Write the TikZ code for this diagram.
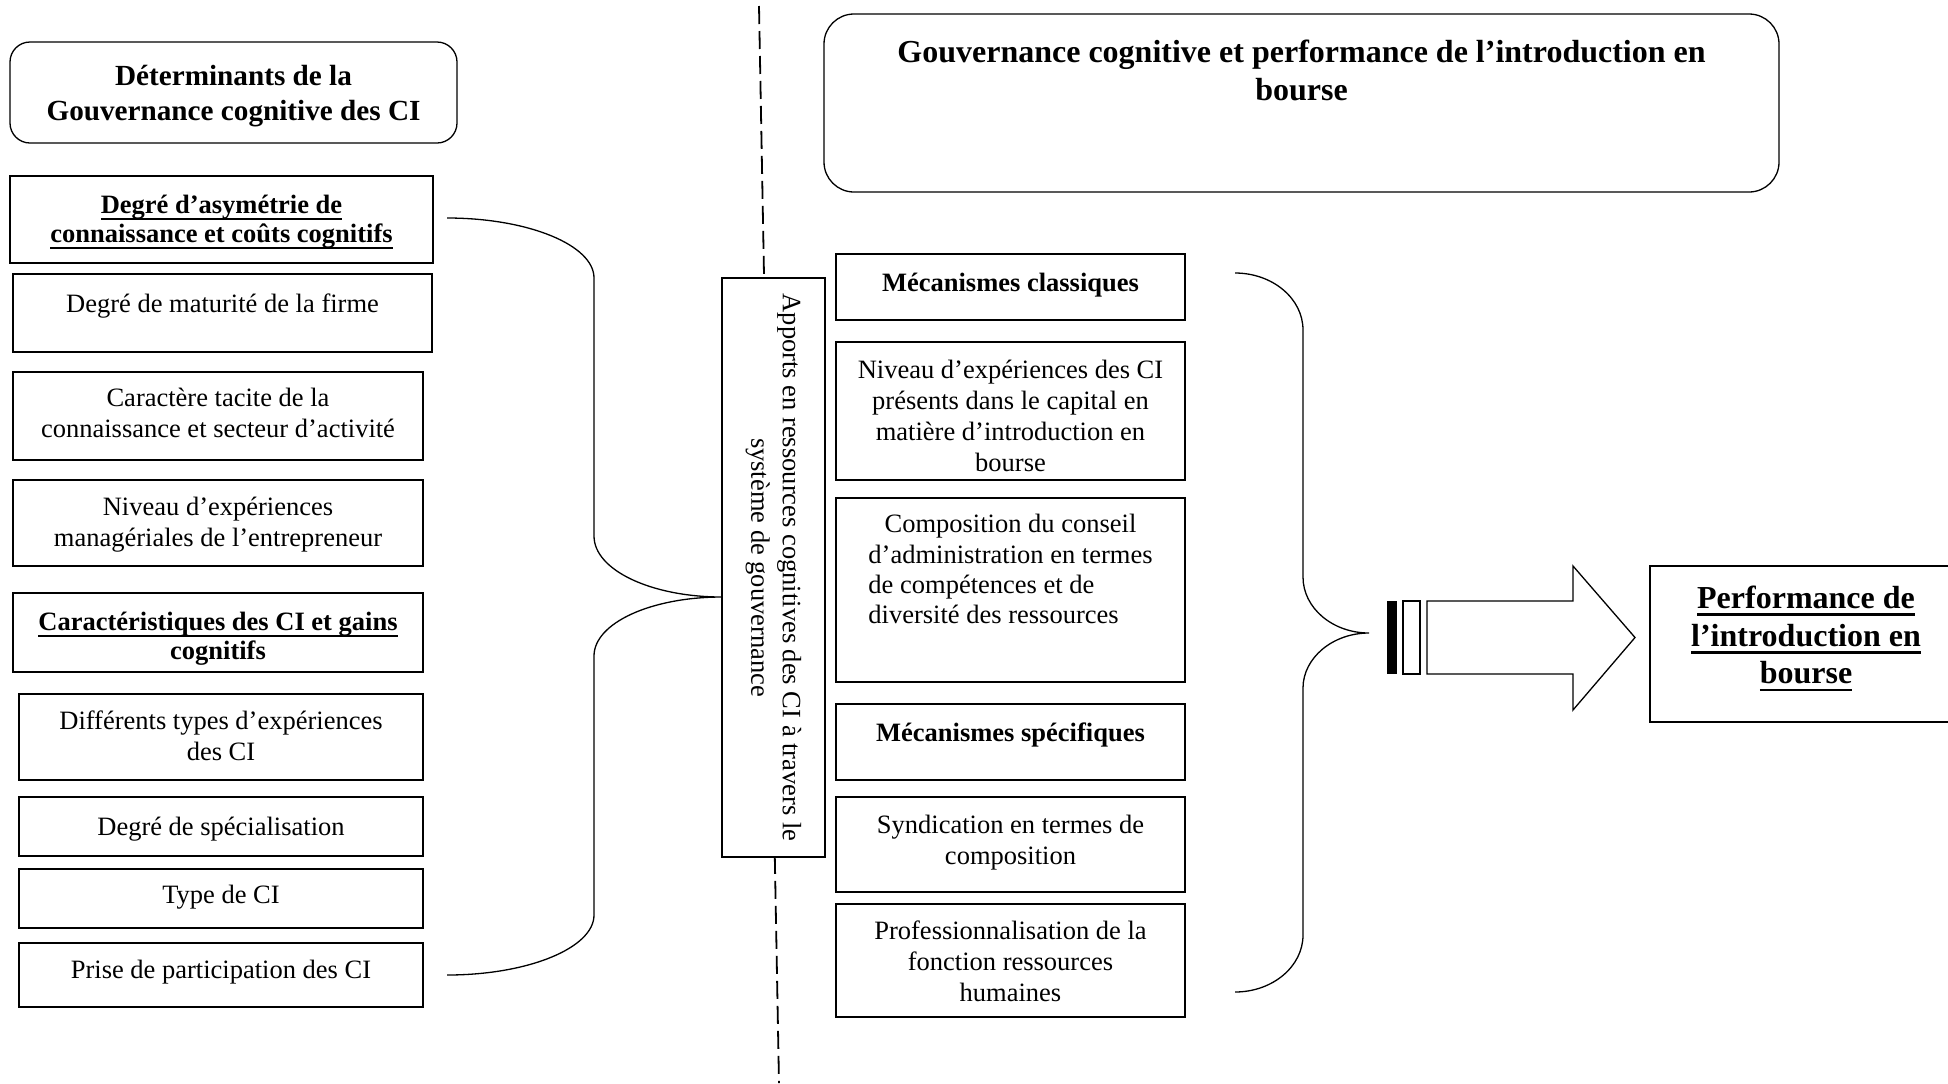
\documentclass[tikz,border=0pt]{standalone}
\usepackage{fontspec}
\setmainfont{Liberation Serif}
\usetikzlibrary{fit,calc}

% underlines for the bold headings
\newsavebox{\ulbox}
\newcommand{\ulx}[1]{\sbox{\ulbox}{#1}\rlap{\rule[-3.3pt]{\wd\ulbox}{1pt}}\usebox{\ulbox}}
\newcommand{\ulbig}[1]{\sbox{\ulbox}{#1}\rlap{\rule[-3.7pt]{\wd\ulbox}{1.3pt}}\usebox{\ulbox}}

\begin{document}
\begin{tikzpicture}[x=0.5pt,y=-0.5pt,
  bx/.style={draw, line width=0.65pt, inner sep=0pt, outer sep=0pt},
  rbx/.style={bx, rounded corners=#1},
  body/.style={inner sep=0pt, align=center, font=\fontsize{13.25}{15.5}\selectfont},
  head/.style={inner sep=0pt, align=center, font=\fontsize{13.25}{13.8}\selectfont\bfseries},
  brace/.style={line width=0.65pt},
  dsh/.style={line width=0.9pt, dash pattern=on 9pt off 3.5pt},
  arr/.style={line width=0.65pt}]
\useasboundingbox (0,0) rectangle (1948,1083);

% separating dashed line (the central box is drawn over it)
\coordinate (dTop) at (759,6);
\coordinate (dBot) at (779,1083);
\draw[dsh] (dTop) -- (dBot);

% ---------- titles ----------
\node[rbx=10pt, fit={(10,42) (457,143)}] (ltitle) {};
\node[inner sep=0pt, align=center, font=\fontsize{14.6}{17.8}\selectfont\bfseries, anchor=north]
  (ltitleT) at ([yshift=-11.2pt]ltitle.north) {Déterminants de la\\Gouvernance cognitive des CI};

\node[rbx=15pt, fit={(824,14) (1779,192)}] (rtitle) {};
\node[inner sep=0pt, align=center, font=\fontsize{16}{18.6}\selectfont\bfseries, anchor=north]
  (rtitleT) at ([yshift=-13pt]rtitle.north) {Gouvernance cognitive et performance de l’introduction en\\bourse};

% ---------- left column ----------
\node[bx, line width=1.1pt, fit={(10,176) (433,263)}] (asym) {};
\node[head, anchor=north, font=\fontsize{13.25}{14.4}\selectfont\bfseries] (asymT) at ([yshift=-9.5pt]asym.north)
  {\ulx{Degré d’asymétrie de}\\\ulx{connaissance et coûts cognitifs}};

\node[bx, fit={(13,274) (432,352)}] (mat) {};
\node[body, anchor=north] (matT) at ([yshift=-9.5pt]mat.north) {Degré de maturité de la firme};

\node[bx, fit={(13,372) (423,460)}] (tac) {};
\node[body, anchor=north] (tacT) at ([yshift=-8pt]tac.north)
  {Caractère tacite de la\\connaissance et secteur d’activité};

\node[bx, fit={(13,480) (423,566)}] (niv) {};
\node[body, anchor=north] (nivT) at ([yshift=-8.5pt]niv.north)
  {Niveau d’expériences\\managériales de l’entrepreneur};

\node[bx, fit={(13,593) (423,672)}] (car) {};
\node[head, anchor=north, font=\fontsize{13.25}{14.2}\selectfont\bfseries] (carT) at ([yshift=-9.5pt]car.north)
  {\ulx{Caractéristiques des CI et gains}\\cognitifs};

\node[bx, fit={(19,694) (423,780)}] (dif) {};
\node[body, anchor=north] (difT) at ([yshift=-8pt]dif.north)
  {Différents types d’expériences\\des CI};

\node[bx, fit={(19,797) (423,856)}] (spe) {};
\node[body, anchor=north] (speT) at ([yshift=-10pt]spe.north) {Degré de spécialisation};

\node[bx, fit={(19,869) (423,928)}] (typ) {};
\node[body, anchor=north] (typT) at ([yshift=-8pt]typ.north) {Type de CI};

\node[bx, fit={(19,943) (423,1007)}] (pri) {};
\node[body, anchor=north] (priT) at ([yshift=-8.5pt]pri.north) {Prise de participation des CI};

% ---------- left brace ----------
\coordinate (lbA) at (447,218);
\coordinate (lbTip) at (722,597);
\coordinate (lbB) at (447,975);
\draw[brace] (lbA) .. controls (528,218) and (594,245) .. (594,278)
  -- (594,536) .. controls (594,570) and (651,597) .. (lbTip)
  .. controls (651,597) and (594,623) .. (594,656)
  -- (594,915) .. controls (594,948) and (528,975) .. (lbB);

% ---------- central vertical box ----------
\node[bx, fill=white, rotate=-90, minimum width=289.5pt, minimum height=51.5pt,
  align=center, font=\fontsize{13.25}{15.8}\selectfont] (apport) at (773.5,567.5)
  {Apports en ressources cognitives des CI à travers le\\système de gouvernance};

% ---------- middle column ----------
\node[bx, fit={(836,254) (1185,320)}] (cla) {};
\node[head, anchor=north] (claT) at ([yshift=-9.5pt]cla.north) {Mécanismes classiques};

\node[bx, fit={(836,342) (1185,480)}] (nci) {};
\node[body, anchor=north] (nciT) at ([yshift=-9pt]nci.north)
  {Niveau d’expériences des CI\\présents dans le capital en\\matière d’introduction en\\bourse};

\node[bx, fit={(836,498) (1185,682)}] (com) {};
\node[inner sep=0pt, anchor=north, font=\fontsize{13.25}{15.2}\selectfont] (comT) at ([yshift=-6.5pt]com.north)
  {\begin{tabular}{@{}l@{}}\multicolumn{1}{@{}c@{}}{Composition du conseil}\\
   d’administration en termes\\ de compétences et de\\ diversité des ressources\end{tabular}};

\node[bx, fit={(836,704) (1185,780)}] (spf) {};
\node[head, anchor=north] (spfT) at ([yshift=-9pt]spf.north) {Mécanismes spécifiques};

\node[bx, fit={(836,797) (1185,892)}] (syn) {};
\node[body, anchor=north] (synT) at ([yshift=-9pt]syn.north) {Syndication en termes de\\composition};

\node[bx, fit={(836,904) (1185,1017)}] (pro) {};
\node[body, anchor=north] (proT) at ([yshift=-8pt]pro.north)
  {Professionnalisation de la\\fonction ressources\\humaines};

% ---------- right brace ----------
\coordinate (rbA) at (1235,273);
\coordinate (rbTip) at (1369,633);
\coordinate (rbB) at (1235,992);
\draw[brace] (rbA) .. controls (1272.5,273) and (1303,298.5) .. (1303,330)
  -- (1303,577) .. controls (1303,608) and (1332.6,633) .. (rbTip)
  .. controls (1332.6,633) and (1303,658) .. (1303,688)
  -- (1303,935) .. controls (1303,966.5) and (1272.5,992) .. (rbB);

% ---------- striped arrow ----------
\fill (1387,601) rectangle (1397,674);
\draw[arr] (1403,601) rectangle (1420,674);
\coordinate (arTip) at (1635,637.5);
\draw[arr] (1427,601) -- (1573,601) -- (1573,566) -- (arTip) -- (1573,710)
  -- (1573,674) -- (1427,674) -- cycle;

% ---------- outcome ----------
\node[bx, fit={(1650,566) (1962,722)}] (perf) {};
\node[inner sep=0pt, align=center, font=\fontsize{16}{18.8}\selectfont\bfseries, anchor=north]
  (perfT) at ([yshift=-9.8pt]perf.north)
  {\ulbig{Performance de}\\\ulbig{l’introduction en}\\\ulbig{bourse}};

\end{tikzpicture}
\end{document}
